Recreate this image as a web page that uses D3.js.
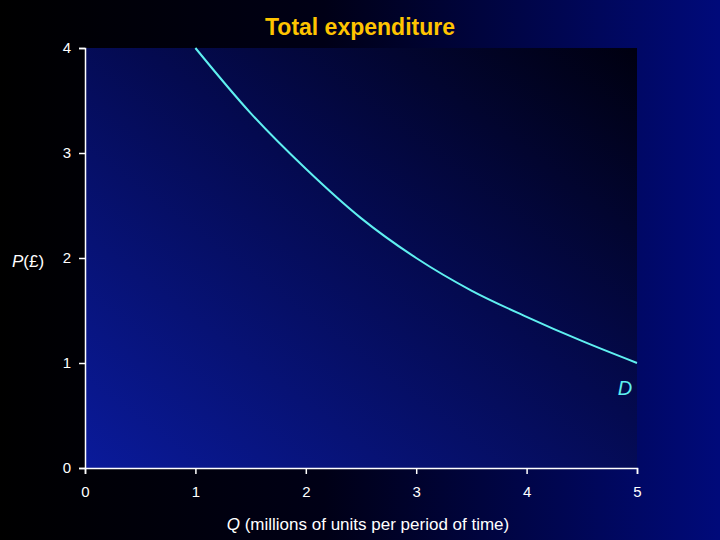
<!DOCTYPE html>
<html><head><meta charset="utf-8">
<script src="https://cdn.jsdelivr.net/npm/d3@7"></script>
<style>body{margin:0;background:#000}</style>
</head><body>
<script>
const qValues = [1, 1.5, 2, 2.5, 3, 3.5, 4, 4.5, 5];
const pValues = [4, 3.38, 2.85, 2.38, 2.0, 1.69, 1.44, 1.21, 1];
const xTicks = [0, 1, 2, 3, 4, 5];
const yTicks = [0, 1, 2, 3, 4];

const W = 720, H = 540;
const svg = d3.select("body").append("svg").attr("width", W).attr("height", H);
const defs = svg.append("defs");
const bg = defs.append("linearGradient").attr("id","bg").attr("x1","0").attr("x2","1").attr("y1","0").attr("y2","0");
bg.append("stop").attr("offset","0").attr("stop-color","#000000");
bg.append("stop").attr("offset","0.45").attr("stop-color","#000016");
bg.append("stop").attr("offset","1").attr("stop-color","#000a7a");
const pg = defs.append("linearGradient").attr("id","pg").attr("x1","0").attr("x2","1").attr("y1","1").attr("y2","0");
pg.append("stop").attr("offset","0").attr("stop-color","#0a1a9a");
pg.append("stop").attr("offset","0.55").attr("stop-color","#040a50");
pg.append("stop").attr("offset","1").attr("stop-color","#000010");
svg.append("rect").attr("width",W).attr("height",H).attr("fill","url(#bg)");

const x = d3.scaleLinear().domain([0,5]).range([85,637]);
const y = d3.scaleLinear().domain([0,4]).range([468,48]);
svg.append("rect").attr("x",85).attr("y",48).attr("width",552).attr("height",420).attr("fill","url(#pg)");

const xa = svg.append("g").attr("transform","translate(0,468)")
  .call(d3.axisBottom(x).tickValues(xTicks).tickFormat(d3.format("d")).tickSize(6).tickPadding(12));
const ya = svg.append("g").attr("transform","translate(85,0)")
  .call(d3.axisLeft(y).tickValues(yTicks).tickFormat(d3.format("d")).tickSize(6).tickPadding(8));
[xa,ya].forEach(a=>{
  a.selectAll("path,line").attr("stroke","#fff").attr("stroke-width",1.5);
  a.selectAll("text").attr("fill","#fff").style("font-family","Liberation Sans, Arial").style("font-size","15px");
});

const pts = qValues.map((q,i)=>[q,pValues[i]]);
svg.append("path").datum(pts)
  .attr("d", d3.line().x(d=>x(d[0])).y(d=>y(d[1])).curve(d3.curveMonotoneX))
  .attr("fill","none").attr("stroke","#5ff0f0").attr("stroke-width",2);

svg.append("text").attr("x",360).attr("y",35).attr("text-anchor","middle")
  .attr("fill","#ffc400").style("font-family","Liberation Sans, Arial").style("font-weight","bold").style("font-size","23px")
  .text("Total expenditure");
const yl = svg.append("text").attr("x",12).attr("y",267).attr("fill","#fff")
  .style("font-family","Liberation Sans, Arial").style("font-size","17px");
yl.append("tspan").style("font-style","italic").text("P");
yl.append("tspan").text("(£)");
const xl = svg.append("text").attr("x",368).attr("y",530).attr("text-anchor","middle").attr("fill","#fff")
  .style("font-family","Liberation Sans, Arial").style("font-size","17px");
xl.append("tspan").style("font-style","italic").text("Q");
xl.append("tspan").text(" (millions of units per period of time)");
svg.append("text").attr("x",625).attr("y",395).attr("text-anchor","middle").attr("fill","#5ff0f0")
  .style("font-family","Liberation Sans, Arial").style("font-style","italic").style("font-size","20px").text("D");
</script>
</body></html>
